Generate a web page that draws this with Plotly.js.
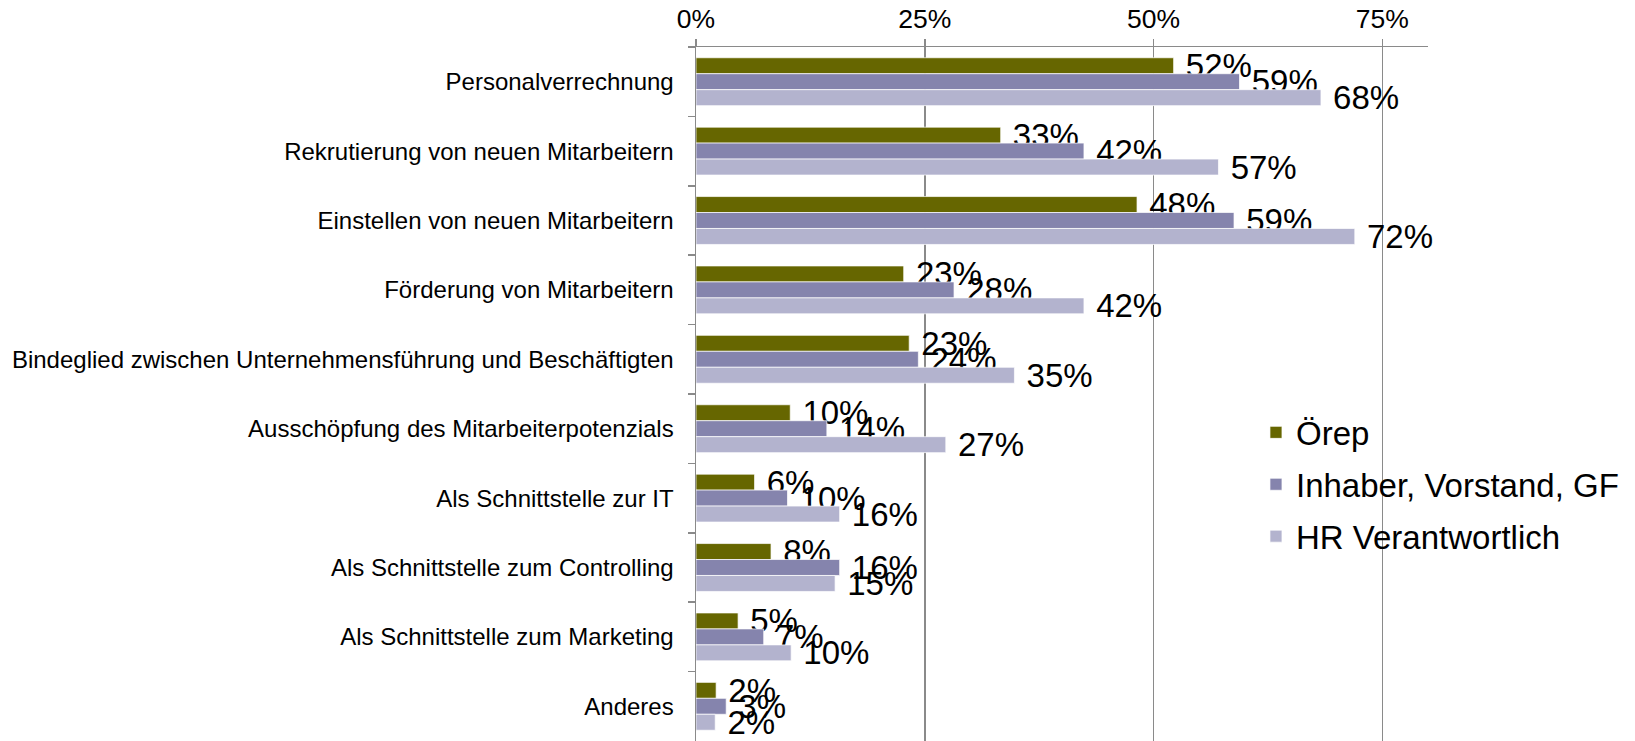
<!DOCTYPE html>
<html>
<head>
<meta charset="utf-8">
<script src="https://cdn.plot.ly/plotly-3.0.1.min.js"></script>
<style>
html,body{margin:0;padding:0;background:#fff;}
#chart{width:1635px;height:741px;}
</style>
</head>
<body>
<div id="chart"></div>
<script>
const categories = [
  "Personalverrechnung",
  "Rekrutierung von neuen Mitarbeitern",
  "Einstellen von neuen Mitarbeitern",
  "Förderung von Mitarbeitern",
  "Bindeglied zwischen Unternehmensführung und Beschäftigten",
  "Ausschöpfung des Mitarbeiterpotenzials",
  "Als Schnittstelle zur IT",
  "Als Schnittstelle zum Controlling",
  "Als Schnittstelle zum Marketing",
  "Anderes"
];
const seriesNames = ["Örep", "Inhaber, Vorstand, GF", "HR Verantwortlich"];
const orep    = [0.522, 0.333, 0.482, 0.227, 0.233, 0.103, 0.064, 0.082, 0.046, 0.022];
const inhaber = [0.594, 0.424, 0.588, 0.282, 0.243, 0.143, 0.100, 0.157, 0.074, 0.033];
const hr      = [0.683, 0.571, 0.720, 0.424, 0.348, 0.273, 0.157, 0.152, 0.104, 0.021];
const tickValues = [0, 0.25, 0.5, 0.75];
const tickLabels = ["0%", "25%", "50%", "75%"];

const colors = ["#666600", "#8584AD", "#B3B3CE"];
const FONT = "Liberation Sans, Arial, sans-serif";
const series = [orep, inhaber, hr];

const traces = series.map((vals, i) => ({
  type: "bar",
  orientation: "h",
  name: seriesNames[i],
  legendgroup: "g" + i,
  x: vals,
  y: categories,
  marker: {color: colors[i], line: {color: "rgba(255,255,255,0.7)", width: 1}},
  text: vals.map(v => "\u00a0" + Math.round(v * 100) + "%"),
  textposition: "outside",
  textfont: {family: FONT, size: 33, color: "#000"},
  constraintext: "none",
  cliponaxis: false,
  hoverinfo: "x+y+name"
}));

const layout = {
  width: 1635,
  height: 741,
  margin: {l: 696, r: 207, t: 47, b: 0, pad: 0, autoexpand: false},
  paper_bgcolor: "#fff",
  plot_bgcolor: "#fff",
  barmode: "group",
  bargap: 0.31,
  bargroupgap: 0,
  font: {family: FONT, color: "#000"},
  showlegend: true,
  legend: {
    xref: "paper", yref: "paper",
    x: 0.765, y: 0.485, xanchor: "left", yanchor: "top",
    traceorder: "grouped",
    tracegroupgap: 6,
    font: {family: FONT, size: 33, color: "#000"},
    bgcolor: "rgba(0,0,0,0)"
  },
  xaxis: {
    side: "top",
    range: [0, 0.8],
    tickvals: tickValues,
    ticktext: tickLabels,
    tickfont: {family: FONT, size: 26.5, color: "#000"},
    showgrid: true,
    gridcolor: "#8a8a8a",
    gridwidth: 1.5,
    zeroline: false,
    showline: true,
    linecolor: "#8a8a8a",
    linewidth: 1.5,
    ticks: "outside",
    ticklen: 7,
    tickcolor: "#8a8a8a",
    tickwidth: 1.5,
    ticklabelstandoff: 0,
    fixedrange: true
  },
  yaxis: {
    type: "category",
    categoryorder: "array",
    categoryarray: categories,
    autorange: "reversed",
    tickfont: {family: FONT, size: 24, color: "#000"},
    showgrid: false,
    zeroline: false,
    showline: true,
    linecolor: "#8a8a8a",
    linewidth: 1.5,
    ticks: "outside",
    tickson: "boundaries",
    ticklen: 7,
    tickcolor: "#8a8a8a",
    tickwidth: 1.5,
    ticklabelstandoff: 16,
    fixedrange: true
  }
};

Plotly.newPlot("chart", traces, layout, {displayModeBar: false, staticPlot: true});
</script>
</body>
</html>
